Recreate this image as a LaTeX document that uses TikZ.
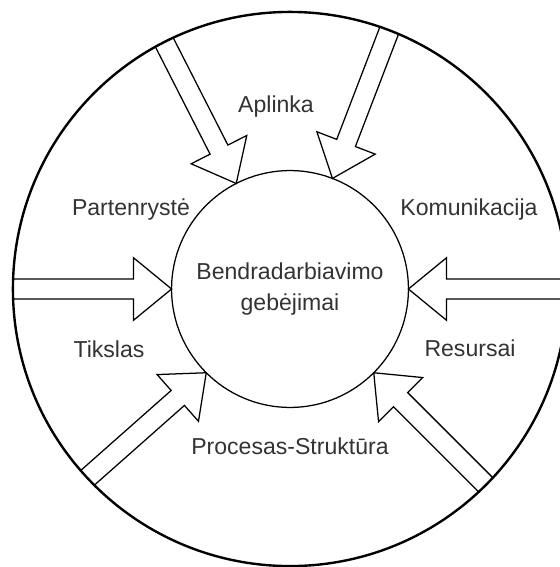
\documentclass[tikz,border=0pt]{standalone}
\usepackage{fontspec}
\setmainfont{Liberation Sans}
\usetikzlibrary{calc}

\begin{document}
\begin{tikzpicture}[x=0.025cm,y=-0.025cm,
    lbl/.style={font=\fontsize{16.4}{21.5}\selectfont, text=black!80, align=center},
    flex/.style={draw, line width=0.9pt, line join=miter}]

    \useasboundingbox (0,0) rectangle (560,567);
    \clip (0,0) rectangle (560,567);

    \node[circle,
          draw,
          line width = 1.7pt,
          outer sep = 0pt,
          minimum size = 13.85cm
          ] (ring) at (290,289) {};

    \node[circle,
          draw,
          line width = 0.9pt,
          outer sep = 0pt,
          minimum size = 5.92cm
          ] (core) at (290,289) {};
    \node[lbl] (capab) at (core.center) {Bendradarbiavimo\\gebėjimai};

    \node[lbl] (aplinka) at (276,107) {Aplinka};
    \node[lbl] (partn) at (131,210) {Partenrystė};
    \node[lbl] (komun) at (469,210) {Komunikacija};
    \node[lbl] (tiksl) at (109,349) {Tikslas};
    \node[lbl] (resurs) at (470,348) {Resursai};
    \node[lbl] (proces) at (290,446) {Procesas-Struktūra};

    % block arrows, ring -> core
    \foreach \from/\to in {117.5/117.5, 69/69, 180/180, 0/0, 223/225, 315/315}{
        \coordinate (tail) at (ring.\from);
        \coordinate (tip) at (core.\to);
        \coordinate (base) at ($(tip)!0.95cm!(tail)$);
        \draw[flex] ($(tail)!0.25cm!90:(tip)$) -- ($(base)!0.25cm!90:(tip)$)
            -- ($(base)!0.78cm!90:(tip)$) -- (tip)
            -- ($(base)!0.78cm!-90:(tip)$) -- ($(base)!0.25cm!-90:(tip)$)
            -- ($(tail)!0.25cm!-90:(tip)$);
    }

\end{tikzpicture}
\end{document}
